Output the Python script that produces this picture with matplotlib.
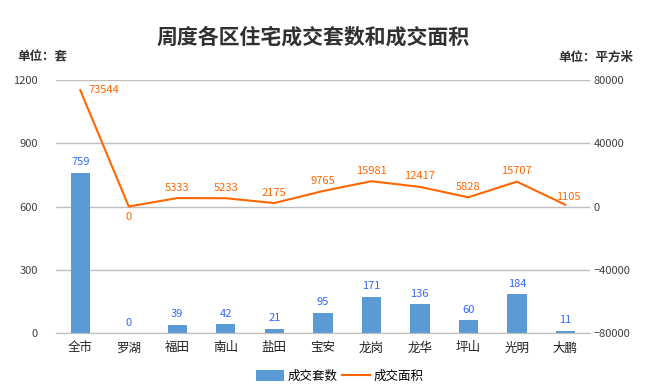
import matplotlib.pyplot as plt
import numpy as np

plt.rcParams['font.family'] = ['Noto Sans CJK SC', 'DejaVu Sans']

districts = ['全市', '罗湖', '福田', '南山', '盐田', '宝安', '龙岗', '龙华', '坪山', '光明', '大鹏']
units = [759, 0, 39, 42, 21, 95, 171, 136, 60, 184, 11]
area = [73544, 0, 5333, 5233, 2175, 9765, 15981, 12417, 5828, 15707, 1105]

bar_color = '#5B9BD5'
line_color = '#FF6600'
grid_color = '#BFBFBF'

fig = plt.figure(figsize=(6.46, 3.9), dpi=100)
ax = fig.add_axes([0.0867, 0.146, 0.826, 0.649])
ax2 = ax.twinx()

x = np.arange(len(districts))
ax.bar(x, units, width=0.4, color=bar_color, zorder=2, label='成交套数')
ax2.plot(x, area, color=line_color, linewidth=1.5, zorder=3, label='成交面积')

ax.set_xlim(-0.5, len(districts) - 0.5)
ax.set_ylim(0, 1200)
ax.set_yticks(range(0, 1201, 300))
ax2.set_ylim(-80000, 80000)
ax2.set_yticks(range(-80000, 80001, 40000))

ax.set_zorder(ax2.get_zorder() - 1)
ax.patch.set_visible(False)
ax.yaxis.grid(True, color=grid_color, linewidth=1, zorder=0)
for a in (ax, ax2):
    for s in ('top', 'left', 'right'):
        a.spines[s].set_visible(False)
    a.spines['bottom'].set_color(grid_color)
    a.tick_params(length=0, labelsize=8, colors='#404040')
ax.tick_params(axis='y', pad=13)
ax2.tick_params(axis='y', pad=3)
ax.set_xticks(x)
ax.set_xticklabels(districts, fontsize=9, color='#202020')
ax.tick_params(axis='x', pad=6)

for xi, v in zip(x, units):
    ax.annotate(str(v), (xi, v), xytext=(0, 4), textcoords='offset points',
                ha='center', va='bottom', fontsize=8, color='#3366FF')

for xi, v in zip(x, area):
    if xi == 0:
        ax2.annotate(str(v), (xi, v), xytext=(6, 0), textcoords='offset points',
                     ha='left', va='center', fontsize=8, color=line_color)
    elif v == 0:
        ax2.annotate(str(v), (xi, v), xytext=(0, -4), textcoords='offset points',
                     ha='center', va='top', fontsize=8, color=line_color)
    elif xi == len(x) - 1:
        ax2.annotate(str(v), (xi, v), xytext=(2, 2), textcoords='offset points',
                     ha='center', va='bottom', fontsize=8, color=line_color)
    else:
        ax2.annotate(str(v), (xi, v), xytext=(0, 4), textcoords='offset points',
                     ha='center', va='bottom', fontsize=8, color=line_color)

fig.text(0.485, 0.905, '周度各区住宅成交套数和成交面积', ha='center', va='center',
         fontsize=15, fontweight='bold', color='#303030')
fig.text(0.027, 0.853, '单位：套', ha='left', va='center', fontsize=9,
         fontweight='bold', color='#303030')
fig.text(0.98, 0.853, '单位：平方米', ha='right', va='center', fontsize=9,
         fontweight='bold', color='#303030')

h1, l1 = ax.get_legend_handles_labels()
h2, l2 = ax2.get_legend_handles_labels()
fig.legend(h1 + h2, l1 + l2, loc='center', bbox_to_anchor=(0.526, 0.035), ncol=2,
           frameon=False, fontsize=9, handlelength=2.2, handleheight=0.9,
           columnspacing=0.4, handletextpad=0.3)

fig.savefig('out.png', dpi=100)
